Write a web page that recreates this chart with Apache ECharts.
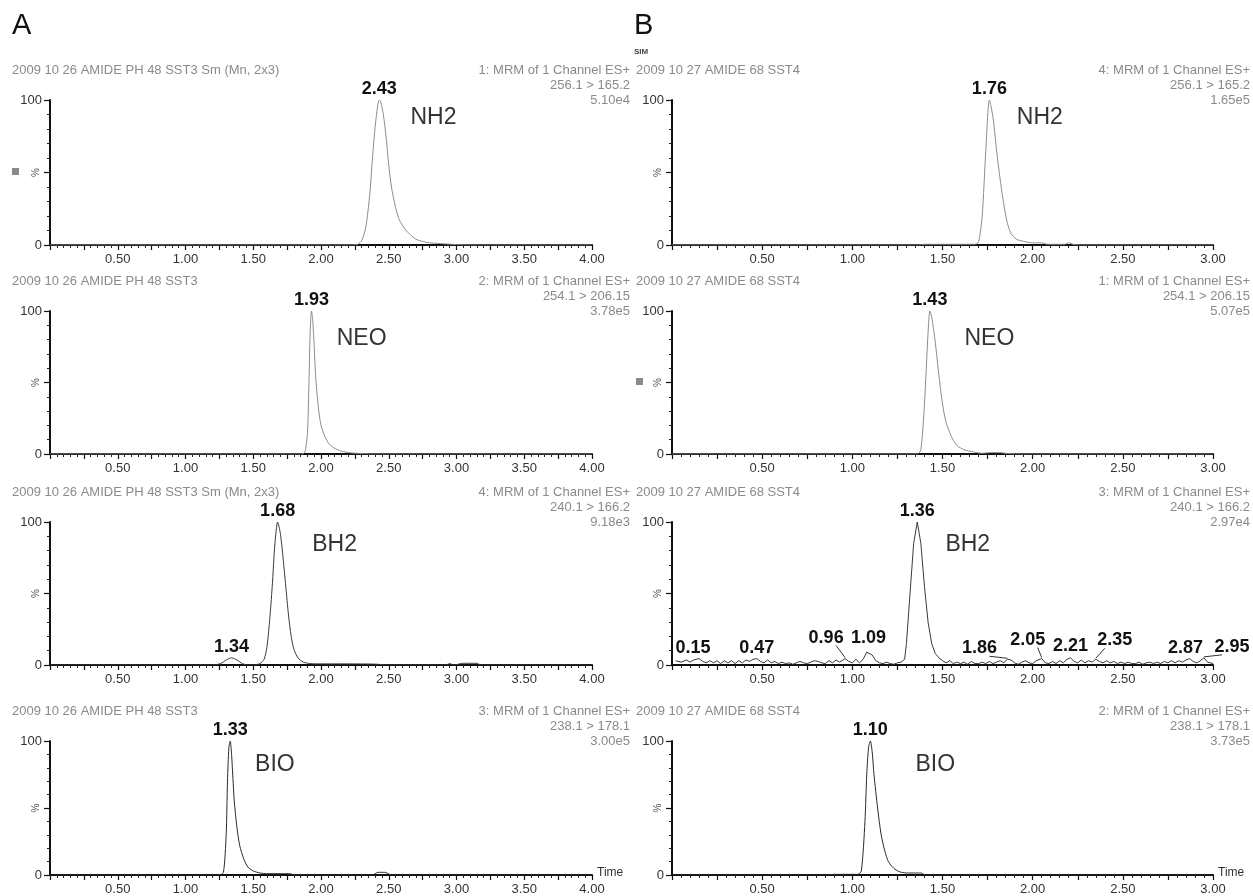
<!DOCTYPE html>
<html>
<head>
<meta charset="utf-8">
<script src="https://cdn.jsdelivr.net/npm/echarts@6/dist/echarts.min.js"></script>
<style>
  html, body { margin: 0; padding: 0; background: #fff; }
  #chart { width: 1253px; height: 896px; }
</style>
</head>
<body>
<div id="chart"></div>
<script>
// ---- data ----
var compounds = ['NH2', 'NEO', 'BH2', 'BIO'];

var headersA = ['2009 10 26 AMIDE PH 48 SST3 Sm (Mn, 2x3)', '2009 10 26 AMIDE PH 48 SST3',
                '2009 10 26 AMIDE PH 48 SST3 Sm (Mn, 2x3)', '2009 10 26 AMIDE PH 48 SST3'];
var headersB = ['2009 10 27 AMIDE 68 SST4', '2009 10 27 AMIDE 68 SST4',
                '2009 10 27 AMIDE 68 SST4', '2009 10 27 AMIDE 68 SST4'];
var channelsA = ['1: MRM of 1 Channel ES+', '2: MRM of 1 Channel ES+', '4: MRM of 1 Channel ES+', '3: MRM of 1 Channel ES+'];
var channelsB = ['4: MRM of 1 Channel ES+', '1: MRM of 1 Channel ES+', '3: MRM of 1 Channel ES+', '2: MRM of 1 Channel ES+'];
var transitions = ['256.1 > 165.2', '254.1 > 206.15', '240.1 > 166.2', '238.1 > 178.1'];
var intensA = ['5.10e4', '3.78e5', '9.18e3', '3.00e5'];
var intensB = ['1.65e5', '5.07e5', '2.97e4', '3.73e5'];

var timeMaxA = 4, timeMaxB = 3;

// traces: [time, %]
var nh2A = [[0,0],[2.20,0],[2.27,0.5],[2.30,3],[2.33,12],[2.36,35],[2.38,60],[2.40,82],[2.42,97],[2.43,100],[2.44,99],
  [2.46,90],[2.48,75],[2.50,55],[2.52,40],[2.55,26],[2.58,17],[2.62,11],[2.66,7],[2.70,4],[2.75,2.5],[2.80,1.5],
  [2.88,1],[3.00,0.3],[3.10,0],[4,0]];
var neoA = [[0,0],[1.85,0],[1.88,1],[1.90,15],[1.91,45],[1.92,85],[1.93,100],[1.94,92],[1.95,75],[1.96,55],[1.98,33],
  [2.00,20],[2.03,12],[2.06,7],[2.10,4],[2.15,2],[2.22,0.8],[2.30,0.3],[2.40,0],[4,0]];
var bh2A = [[0,0],[1.20,0],[1.26,1],[1.30,3.5],[1.34,5],[1.38,3.5],[1.42,1],[1.46,0],[1.50,0],[1.55,1],[1.58,4],[1.60,12],
  [1.62,30],[1.64,55],[1.66,85],[1.68,100],[1.70,92],[1.72,75],[1.74,55],[1.76,35],[1.78,20],[1.80,11],[1.83,5],
  [1.87,2],[1.92,1],[2.00,0.8],[2.20,0.8],[2.40,0.6],[2.50,0],[2.92,0],[2.95,1],[2.98,0],[3.05,1.2],[3.15,1.2],[3.18,0],[4,0]];
var bioA = [[0,0],[1.25,0],[1.28,2],[1.30,30],[1.31,70],[1.32,95],[1.33,100],[1.34,90],[1.35,72],[1.36,55],[1.38,35],
  [1.40,22],[1.43,12],[1.46,6],[1.50,3],[1.55,1.5],[1.60,1],[1.70,1],[1.76,1],[1.80,0.3],[1.90,0],[2.38,0],[2.42,2],
  [2.47,2],[2.52,0],[4,0]];

var nh2B = [[0,0],[1.38,0],[1.40,0.5],[1.50,0.5],[1.60,0.5],[1.68,0.5],[1.70,2],[1.72,20],[1.74,65],[1.76,100],[1.78,88],
  [1.80,65],[1.82,45],[1.84,28],[1.86,15],[1.88,8],[1.91,4],[1.95,2.5],[2.00,1.5],[2.05,1.5],[2.08,0.5],[2.18,0.5],
  [2.20,1.5],[2.23,0.3],[2.30,0],[3,0]];
var neoB = [[0,0],[1.36,0],[1.38,3],[1.40,35],[1.42,85],[1.43,100],[1.44,96],[1.46,78],[1.48,55],[1.50,35],[1.52,22],
  [1.55,12],[1.58,6],[1.62,3],[1.67,1.5],[1.72,0.5],[1.76,1],[1.82,1],[1.86,0.3],[1.95,0],[3,0]];
var bh2B = [[0.02,3],[0.05,2],[0.08,3.5],[0.10,2],[0.12,3.5],[0.15,4.5],[0.17,2.5],[0.19,1.5],[0.21,3],[0.23,1.5],[0.25,3],
  [0.27,1],[0.29,3],[0.31,1.5],[0.33,3],[0.35,1],[0.37,3],[0.39,1.5],[0.41,3.5],[0.43,2.5],[0.45,4],[0.47,4.5],
  [0.49,2.5],[0.51,1.5],[0.53,3.5],[0.55,1.5],[0.57,2.5],[0.59,1],[0.61,2],[0.63,1],[0.65,1.5],[0.67,0.5],[0.69,1.5],
  [0.71,2.5],[0.73,1.5],[0.75,1],[0.77,2],[0.79,3],[0.81,2.5],[0.83,1.5],[0.85,1],[0.87,3],[0.89,1.5],[0.91,3.5],
  [0.93,2],[0.96,4.5],[0.98,2.5],[1.00,1.5],[1.02,4],[1.04,1.5],[1.06,4],[1.08,9],[1.09,10],[1.11,7],[1.13,3],[1.15,1.5],
  [1.17,1],[1.19,2],[1.21,1],[1.23,0.5],[1.25,1.5],[1.27,2],[1.29,4],[1.30,15],[1.32,50],[1.34,85],[1.36,100],
  [1.38,85],[1.40,55],[1.42,30],[1.44,15],[1.46,8],[1.48,5],[1.50,3],[1.52,1.5],[1.54,3],[1.56,1],[1.58,2],[1.60,1],
  [1.62,2],[1.64,0.5],[1.66,2.5],[1.68,1],[1.70,1],[1.72,2],[1.74,1],[1.76,2.5],[1.78,1],[1.80,2],[1.82,3],[1.84,1.5],
  [1.86,4],[1.88,3.5],[1.90,1.5],[1.92,0.5],[1.94,2],[1.96,3],[1.98,1.5],[2.00,1],[2.02,3],[2.05,4.5],[2.07,1.5],[2.09,1],
  [2.11,2.5],[2.13,1],[2.15,3],[2.17,1.5],[2.19,4],[2.21,5],[2.23,2.5],[2.25,1.5],[2.27,3.5],[2.29,1.5],[2.31,3],[2.33,2],
  [2.35,4],[2.37,2.5],[2.39,1.5],[2.41,3],[2.43,1.5],[2.45,2.5],[2.47,1],[2.49,2],[2.51,1],[2.53,2],[2.55,1],[2.57,1],
  [2.59,2],[2.61,0.5],[2.63,1.5],[2.65,2],[2.67,1],[2.69,2],[2.71,1],[2.73,2.5],[2.75,1.5],[2.77,3],[2.79,1.5],[2.81,3],
  [2.83,2],[2.85,3.5],[2.87,4.5],[2.89,2.5],[2.91,1.5],[2.93,3],[2.95,5],[2.97,2],[3.00,1]];
var bioB = [[0,0],[0.86,0],[0.90,0.5],[0.95,0.5],[1.00,0.5],[1.03,0.5],[1.05,3],[1.07,40],[1.08,75],[1.09,95],[1.10,100],
  [1.11,92],[1.12,75],[1.14,50],[1.16,30],[1.18,18],[1.20,10],[1.23,5],[1.26,2.5],[1.30,1.5],[1.35,1.5],[1.38,1.5],
  [1.40,0.3],[1.45,0],[3,0]];

var tracesA = [nh2A, neoA, bh2A, bioA];
var tracesB = [nh2B, neoB, bh2B, bioB];

// labelled peaks [time, %]
var peaksA = [[[2.43,100]], [[1.93,100]], [[1.68,100],[1.34,5]], [[1.33,100]]];
var peaksB = [[[1.76,100]], [[1.43,100]],
  [[1.36,100],[0.15,4.5],[0.47,4.5],[0.96,4.5],[1.09,10],[1.86,4],[2.05,4.5],[2.21,5],[2.35,4],[2.87,4.5],[2.95,5]],
  [[1.10,100]]];

// ---- layout ----
var rowTop = [100, 311, 522, 741];
var rowBot = [245, 454, 665, 875];
var colLeft = [50, 672];
var colWidth = [542, 541];
var lineColors = ['#8c8c8c', '#8c8c8c', '#3a3a3a', '#2a2a2a'];
// where the compound name sits, in axis units
var namePosA = [[2.83,88],[2.30,81],[2.10,84],[1.66,82]];
var namePosB = [[2.04,88],[1.76,81],[1.64,84],[1.46,82]];
// pixel nudges for crowded peak labels (panel B, BH2)
var nudgeB3 = [[0,0],[-6,0],[0,0],[-19,-10],[0,-2],[-28,0],[-14,-8],[0,-1],[19,-8],[-4,0],[28,0]];

var grids = [], xAxes = [], yAxes = [], series = [], graphics = [], leaders = [];

function tickLabel(v) {
    if (v > 0 && Math.abs(v * 2 - Math.round(v * 2)) < 1e-9) return v.toFixed(2);
    return '';
}

function addPanel(col, row, trace, peaks, namePos, maxT, nudges) {
    var idx = grids.length;
    grids.push({ left: colLeft[col], top: rowTop[row], width: colWidth[col], height: rowBot[row] - rowTop[row] });
    xAxes.push({
        gridIndex: idx, type: 'value', min: 0, max: maxT, interval: 0.25,
        name: row === 3 ? 'Time' : '', nameLocation: 'end', nameGap: 5,
        nameTextStyle: { color: '#333', fontSize: 12, fontFamily: 'Liberation Sans', verticalAlign: 'bottom', padding: [0, 0, -4, 0] },
        axisLine: { lineStyle: { color: '#111', width: 2 } },
        axisTick: { length: 5, lineStyle: { color: '#111', width: 1.2 } },
        minorTick: { show: true, splitNumber: 5, length: 3, lineStyle: { color: '#222', width: 1 } },
        splitLine: { show: false },
        axisLabel: { formatter: tickLabel, color: '#333', fontSize: 13, margin: 8, fontFamily: 'Liberation Sans', hideOverlap: false }
    });
    yAxes.push({
        gridIndex: idx, type: 'value', min: 0, max: 100, interval: 50,
        axisLine: { show: true, lineStyle: { color: '#111', width: 2 } },
        axisTick: { show: true, length: 6, lineStyle: { color: '#111', width: 1.2 } },
        minorTick: { show: true, splitNumber: 5, length: 3, lineStyle: { color: '#222' } },
        splitLine: { show: false },
        axisLabel: { formatter: function (v) { return v === 50 ? '' : String(v); }, color: '#333', fontSize: 13, margin: 8, fontFamily: 'Liberation Sans' }
    });

    // sideways "%" beside the middle tick
    graphics.push({
        type: 'text', silent: true, x: colLeft[col] - 14, y: (rowTop[row] + rowBot[row]) / 2, rotation: Math.PI / 2,
        style: { text: '%', font: '10px "Liberation Sans", Arial, sans-serif', fill: '#555',
                 textAlign: 'center', align: 'center', textVerticalAlign: 'middle', verticalAlign: 'middle' }
    });

    var mp = peaks.map(function (p, k) {
        var off = nudges ? nudges[k] : [0, 0];
        if (Math.abs(off[0]) > 10) leaders.push({ grid: idx, coord: p, off: off });
        return { name: p[0].toFixed(2), coord: p, label: { offset: off } };
    });
    mp.push({
        name: compounds[row], coord: namePos,
        label: { position: 'inside', fontSize: 23, fontWeight: 'normal', color: '#333' }
    });

    series.push({
        type: 'line', xAxisIndex: idx, yAxisIndex: idx, data: trace,
        showSymbol: false, symbol: 'none', smooth: trace.length > 60 ? false : 0.25,
        lineStyle: { color: lineColors[row], width: 1 },
        silent: true, animation: false,
        markPoint: {
            symbol: 'circle', symbolSize: 0, silent: true, animation: false,
            label: { show: true, position: 'top', distance: 2, formatter: '{b}', color: '#111',
                     fontSize: 18, fontWeight: 'bold', fontFamily: 'Liberation Sans' },
            data: mp
        }
    });
}

function txt(x, y, s, size, color, align, extra) {
    var st = { text: s, font: (extra || '') + ' ' + size + 'px "Liberation Sans", Arial, sans-serif', fill: color,
               textAlign: align, align: align, textVerticalAlign: 'middle', verticalAlign: 'middle' };
    graphics.push({ type: 'text', x: x, y: y, silent: true, style: st });
}

for (var r = 0; r < 4; r++) {
    addPanel(0, r, tracesA[r], peaksA[r], namePosA[r], timeMaxA, null);
    addPanel(1, r, tracesB[r], peaksB[r], namePosB[r], timeMaxB, r === 2 ? nudgeB3 : null);

    var t = rowTop[r];
    txt(12, t - 30, headersA[r], 13, '#8a8a8a', 'left');
    txt(630, t - 30, channelsA[r], 13, '#8a8a8a', 'right');
    txt(630, t - 15, transitions[r], 13, '#8a8a8a', 'right');
    txt(630, t, intensA[r], 13, '#8a8a8a', 'right');

    txt(636, t - 30, headersB[r], 13, '#8a8a8a', 'left');
    txt(1250, t - 30, channelsB[r], 13, '#8a8a8a', 'right');
    txt(1250, t - 15, transitions[r], 13, '#8a8a8a', 'right');
    txt(1250, t, intensB[r], 13, '#8a8a8a', 'right');
}

txt(12, 26, 'A', 29, '#111', 'left');
txt(634, 26, 'B', 29, '#111', 'left');
txt(634, 52, 'SIM', 8, '#444', 'left', 'bold');
graphics.push({ type: 'rect', shape: { x: 12, y: 168, width: 7, height: 7 }, style: { fill: '#8a8a8a' }, silent: true });
graphics.push({ type: 'rect', shape: { x: 636, y: 378, width: 7, height: 7 }, style: { fill: '#8a8a8a' }, silent: true });

var chart = echarts.init(document.getElementById('chart'), null, { renderer: 'canvas' });
chart.setOption({
    backgroundColor: '#ffffff',
    animation: false,
    textStyle: { fontFamily: 'Liberation Sans' },
    grid: grids,
    xAxis: xAxes,
    yAxis: yAxes,
    series: series,
    graphic: { elements: graphics }
});

// thin leader lines from shifted labels back to their peaks
leaders.forEach(function (l) {
    var p = chart.convertToPixel({ gridIndex: l.grid }, l.coord);
    var sx = l.off[0] > 0 ? -10 : 10;
    graphics.push({
        type: 'line', silent: true,
        shape: { x1: p[0] + l.off[0] + sx, y1: p[1] - 3 + l.off[1], x2: p[0], y2: p[1] - 1 },
        style: { stroke: '#333', lineWidth: 1 }
    });
});
chart.setOption({ graphic: { elements: graphics } });
</script>
</body>
</html>
